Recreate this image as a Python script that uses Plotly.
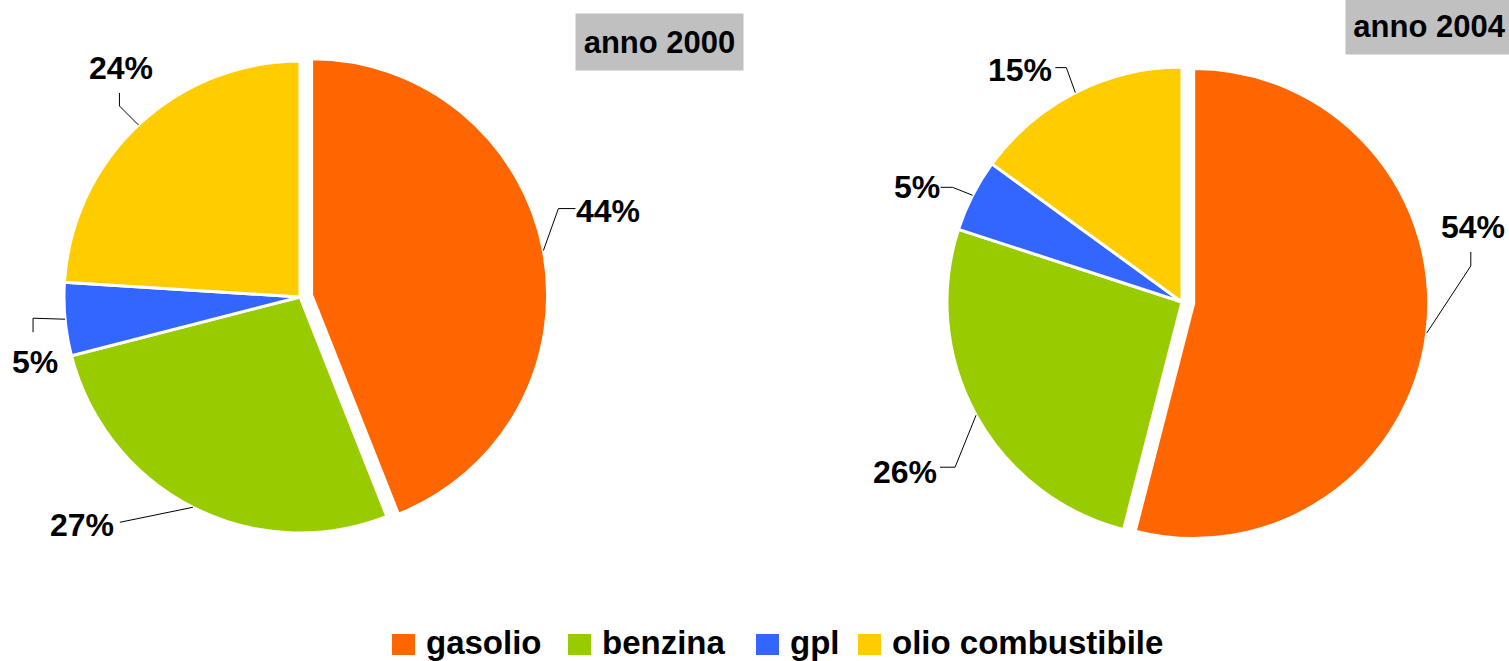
import math
import plotly.graph_objects as go

# ---------------- data ----------------
categories = ["gasolio", "benzina", "gpl", "olio combustibile"]
values_2000 = [44, 27, 5, 24]
values_2004 = [54, 26, 5, 15]
titles = ["anno 2000", "anno 2004"]

# ---------------- style / layout ----------------
colors = ["#FF6600", "#99CC00", "#3366FF", "#FFCC00"]
W, H = 1509, 661
FONT = "Liberation Sans, Arial, sans-serif"
PULL = 0.05

# pie geometry in pixels + label leader offsets (relative to slice edge)
pie_specs = [
    dict(values=values_2000, title=titles[0], cx=300, cy=297, r=236,
         title_c=(659.5, 42),
         leaders=[((15, -42), (32, -42), (65, -40)),
                  ((-73, 15), (-73, 15), (-111, 18)),
                  ((-32, -1), (-32, 13), (-30, 43)),
                  ((-19, -19), (-19, -32), (-17, -57))]),
    dict(values=values_2004, title=titles[1], cx=1182, cy=302, r=235,
         title_c=(1429.5, 26),
         leaders=[((44, -67), (44, -81), (46, -106)),
                  ((-21, 52), (-36, 52), (-71, 57)),
                  ((-20, -8), (-32, -8), (-56, -8)),
                  ((-9, -25), (-20, -25), (-55, -23))]),
]


def px(x):
    return x / W


def py(y):
    return 1 - y / H


fig = go.Figure()
shapes = []
annotations = []

for spec in pie_specs:
    vals = spec["values"]
    cx, cy, r = spec["cx"], spec["cy"], spec["r"]
    half = r * (1 + PULL)
    pulls = [PULL] + [0] * (len(vals) - 1)
    fig.add_trace(go.Pie(
        labels=categories, values=vals, sort=False, direction="clockwise",
        rotation=0, pull=pulls, textinfo="none", showlegend=False,
        marker=dict(colors=colors, line=dict(color="white", width=3)),
        domain=dict(x=[px(cx - half), px(cx + half)],
                    y=[py(cy + half), py(cy - half)]),
        hovertemplate="%{label}: %{percent}<extra></extra>",
    ))

    total = sum(vals)
    cum = 0
    for i, v in enumerate(vals):
        mid = (cum + v / 2) / total * 2 * math.pi
        cum += v
        s, c = math.sin(mid), -math.cos(mid)
        shift = pulls[i] * r
        ex = cx + (r + shift) * s
        ey = cy + (r + shift) * c
        (e1x, e1y), (e2x, e2y), (lx, ly) = spec["leaders"][i]
        path = "M {:.5f},{:.5f} L {:.5f},{:.5f} L {:.5f},{:.5f}".format(
            px(ex), py(ey), px(ex + e1x), py(ey + e1y), px(ex + e2x), py(ey + e2y))
        shapes.append(dict(type="path", xref="paper", yref="paper", path=path,
                           line=dict(color="black", width=1)))
        annotations.append(dict(
            x=px(ex + lx), y=py(ey + ly), xref="paper", yref="paper",
            text="{}%".format(round(100 * v / total)), showarrow=False,
            xanchor="center", yanchor="middle",
            font=dict(family=FONT, size=32, color="black", weight="bold")))

    tx, ty = spec["title_c"]
    annotations.append(dict(
        x=px(tx), y=py(ty), xref="paper", yref="paper", text=spec["title"],
        showarrow=False, xanchor="center", yanchor="middle",
        bgcolor="#C0C0C0", width=159, height=48, borderpad=4,
        font=dict(family=FONT, size=31, color="black", weight="bold")))

# custom legend (large square swatches)
legend_x = [392, 568, 756, 858]
sq_w, sq_h, sq_top = 23, 21, 634
for name, col, lx in zip(categories, colors, legend_x):
    shapes.append(dict(type="rect", xref="paper", yref="paper",
                       x0=px(lx), x1=px(lx + sq_w), y0=py(sq_top + sq_h), y1=py(sq_top),
                       fillcolor=col, line=dict(width=0)))
    annotations.append(dict(
        x=px(lx + sq_w + 9), y=py(642), xref="paper", yref="paper", text=name,
        showarrow=False, xanchor="left", yanchor="middle",
        font=dict(family=FONT, size=33, color="black", weight="bold")))

fig.update_layout(
    width=W, height=H, margin=dict(l=0, r=0, t=0, b=0),
    paper_bgcolor="white", plot_bgcolor="white",
    shapes=shapes, annotations=annotations, showlegend=False,
)

fig.write_html("out.html", config={"displayModeBar": False},
               post_script="document.body.style.margin='0';document.body.style.overflow='hidden';")
